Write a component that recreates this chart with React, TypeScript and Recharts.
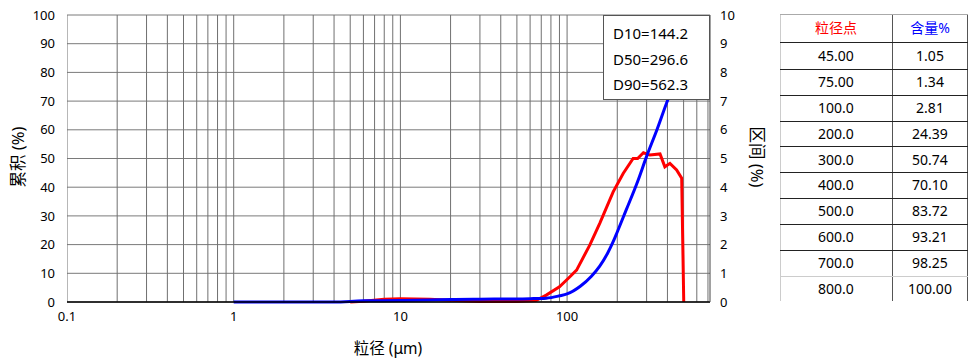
import React from 'react';
import { ComposedChart, Line, XAxis, YAxis, CartesianGrid, ReferenceLine } from 'recharts';

const cumSizes = [1, 4, 6, 10, 15, 20, 30, 45, 60, 75, 90, 100, 120, 140, 157, 175, 189, 200, 226, 265, 300, 346, 400, 450, 500, 600, 700];
const cumValues = [0, 0, 0.4, 0.5, 0.7, 0.9, 1.0, 1.05, 1.15, 1.34, 2.15, 2.81, 5.5, 9.0, 12.5, 17, 21, 24.39, 32, 42, 50.74, 60, 70.1, 77.5, 83.72, 93.21, 98.25];

const freqSizes = [5, 6, 8, 10, 15, 20, 30, 50, 65, 75, 90, 104, 114, 137, 157, 189, 217, 249, 265, 287, 314, 361, 386, 414, 454, 487, 501];
const freqValues = [0, 0.03, 0.1, 0.11, 0.1, 0.06, 0.02, 0.02, 0.05, 0.24, 0.53, 0.88, 1.11, 1.99, 2.74, 3.84, 4.48, 5.0, 5.0, 5.2, 5.12, 5.16, 4.71, 4.83, 4.6, 4.31, 0];

const xTicks = [0.1, 1, 10, 100];
const leftTicks = [0, 10, 20, 30, 40, 50, 60, 70, 80, 90, 100];
const rightTicks = [0, 1, 2, 3, 4, 5, 6, 7, 8, 9, 10];
const xGrid = [0.1, 0.2, 0.3, 0.4, 0.5, 0.6, 0.7, 0.8, 0.9, 1, 2, 3, 4, 5, 6, 7, 8, 9, 10, 20, 30, 40, 50, 60, 70, 80, 90, 100, 200, 300, 400, 500, 600, 700];

const dLabels = ['D10=144.2', 'D50=296.6', 'D90=562.3'];
const tablePoints = ['45.00', '75.00', '100.0', '200.0', '300.0', '400.0', '500.0', '600.0', '700.0', '800.0'];
const tableContents = ['1.05', '1.34', '2.81', '24.39', '50.74', '70.10', '83.72', '93.21', '98.25', '100.00'];

const cumData = cumSizes.map((s, i) => ({ x: s, y: cumValues[i] }));
const freqData = freqSizes.map((s, i) => ({ x: s, y: freqValues[i] }));

const FONT = "'Noto Sans', 'Noto Sans CJK SC', sans-serif";

export default function App() {
  const rowTops = [14, 42, 68.5, 94.5, 120.5, 146, 172, 197.5, 223.5, 249.5, 275.5];
  return (
    <div style={{ position: 'absolute', left: 0, top: 0, width: 975, height: 361, background: '#fff', fontFamily: FONT }}>
      <ComposedChart width={975} height={361} margin={{ top: 15, right: 215, bottom: 29, left: 0 }}>
        <CartesianGrid vertical={false} stroke="#7a7a7a" strokeOpacity={1} yAxisId="left" />
        <XAxis
          dataKey="x"
          type="number"
          scale="log"
          domain={[0.1, 720]}
          allowDataOverflow
          ticks={xTicks}
          tickFormatter={(v: number) => String(v)}
          axisLine={{ stroke: '#000', strokeWidth: 1.5 }}
          tickLine={false}
          height={30}
          tick={{ fill: '#000', fontSize: 13, fontFamily: FONT }}
          tickMargin={4}
        />
        <YAxis
          yAxisId="left"
          orientation="left"
          domain={[0, 100]}
          ticks={leftTicks}
          width={67}
          axisLine={false}
          tickLine={false}
          tick={{ fill: '#000', fontSize: 13, fontFamily: FONT }}
          tickMargin={6}
        />
        <YAxis
          yAxisId="right"
          orientation="right"
          domain={[0, 10]}
          ticks={rightTicks}
          width={50}
          axisLine={{ stroke: '#444' }}
          tickLine={false}
          tick={{ fill: '#000', fontSize: 13, fontFamily: FONT }}
          tickMargin={4}
        />
        {xGrid.map((v) => (
          <ReferenceLine key={v} x={v} yAxisId="left" stroke="#707070" strokeWidth={1} ifOverflow="hidden" />
        ))}
        <Line
          yAxisId="right"
          data={freqData}
          dataKey="y"
          type="linear"
          stroke="#ff0000"
          strokeWidth={3}
          dot={false}
          isAnimationActive={false}
        />
        <Line
          yAxisId="left"
          data={cumData}
          dataKey="y"
          type="monotone"
          stroke="#0000ff"
          strokeWidth={3}
          dot={false}
          isAnimationActive={false}
        />
      </ComposedChart>

      <div style={{ position: 'absolute', left: 603, top: 15, width: 107, height: 85, background: '#fff', border: '1px solid #555', boxSizing: 'border-box' }}>
        {dLabels.map((t, i) => (
          <div key={t} style={{ position: 'absolute', left: 9, top: 7 + i * 25.5, fontSize: 15, lineHeight: '20px', color: '#000', whiteSpace: 'nowrap' }}>{t}</div>
        ))}
      </div>

      <div style={{ position: 'absolute', left: 2, top: 157, transform: 'translate(0,-50%) rotate(-90deg)', transformOrigin: 'center', width: 30, display: 'flex', justifyContent: 'center' }}>
        <span style={{ fontSize: 16.5, whiteSpace: 'nowrap', color: '#000' }}>累积 (%)</span>
      </div>
      <div style={{ position: 'absolute', left: 743, top: 157, transform: 'translate(0,-50%) rotate(90deg)', transformOrigin: 'center', width: 30, display: 'flex', justifyContent: 'center' }}>
        <span style={{ fontSize: 16.5, whiteSpace: 'nowrap', color: '#000' }}>区间 (%)</span>
      </div>
      <div style={{ position: 'absolute', left: 308, top: 336, width: 160, textAlign: 'center', fontSize: 15.5, color: '#000' }}>粒径 (μm)</div>

      <div style={{ position: 'absolute', left: 780, top: 14, width: 188, height: 287 }}>
        <div style={{ position: 'absolute', left: 0, top: 0, width: 1, height: 287, background: '#ccc' }} />
        <div style={{ position: 'absolute', left: 112, top: 0, width: 1, height: 287, background: '#555' }} />
        <div style={{ position: 'absolute', left: 187, top: 0, width: 1, height: 287, background: '#555' }} />
        <div style={{ position: 'absolute', left: 0, top: 0, width: 188, height: 1, background: '#aaa' }} />
        {rowTops.slice(1).map((t, i) => (
          <div key={i} style={{ position: 'absolute', left: 0, top: t - 14, width: 188, height: 1, background: i === rowTops.length - 2 ? '#ccc' : '#222' }} />
        ))}
        <div style={{ position: 'absolute', left: 0, top: 0, width: 112, height: 28, lineHeight: '28px', textAlign: 'center', color: '#ff0000', fontSize: 14 }}>粒径点</div>
        <div style={{ position: 'absolute', left: 112, top: 0, width: 76, height: 28, lineHeight: '28px', textAlign: 'center', color: '#0000ff', fontSize: 14 }}>含量%</div>
        {tablePoints.map((p, i) => (
          <React.Fragment key={p}>
            <div style={{ position: 'absolute', left: 0, top: rowTops[i + 1] - 14, width: 112, height: rowTops[i + 2] ? rowTops[i + 2] - rowTops[i + 1] : 26, display: 'flex', alignItems: 'center', justifyContent: 'center', fontSize: 14, color: '#000' }}>{p}</div>
            <div style={{ position: 'absolute', left: 112, top: rowTops[i + 1] - 14, width: 76, height: rowTops[i + 2] ? rowTops[i + 2] - rowTops[i + 1] : 26, display: 'flex', alignItems: 'center', justifyContent: 'center', fontSize: 14, color: '#000' }}>{tableContents[i]}</div>
          </React.Fragment>
        ))}
      </div>
    </div>
  );
}
